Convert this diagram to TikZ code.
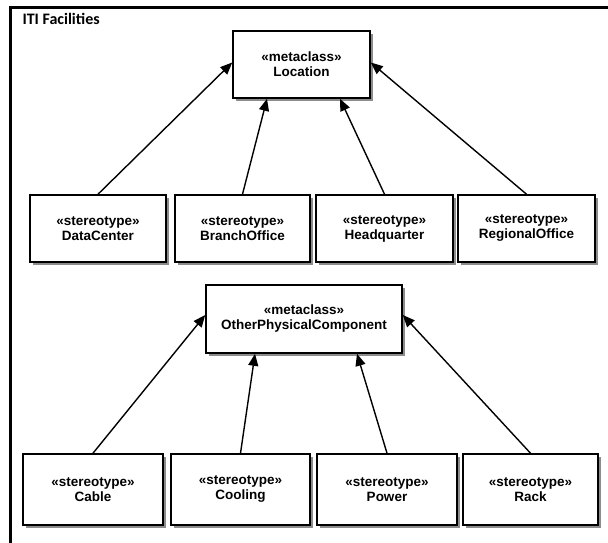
\documentclass[tikz,border=0pt]{standalone}
\usepackage{fontspec}
\setmainfont{Liberation Sans}
\newfontfamily\titlefont{Carlito}
\usetikzlibrary{shadows,arrows.meta}
\begin{document}
\begin{tikzpicture}[x=1pt,y=-1pt,
  umlbox/.style={draw=black,line width=1.6pt,fill=white,align=center,
    font=\bfseries\fontsize{13.5}{15}\selectfont,inner sep=0pt,
    drop shadow={shadow xshift=3pt,shadow yshift=-3pt,fill=black!45,opacity=1}},
  gen/.style={line width=1.4pt,-{Triangle[length=12pt,width=10pt]}}]
\useasboundingbox (0,0) rectangle (608,542);
% frame
\draw[line width=3pt] (10,560) -- (10,7.5) -- (610,7.5);
\node[anchor=base west,font=\titlefont\bfseries\fontsize{16}{18}\selectfont] (title) at (19,24) {ITI Facilities};
% first package
\node[umlbox,minimum width=137pt,minimum height=67pt] (loc) at (301.5,64.5) {«metaclass»\\Location};
\node[umlbox,minimum width=136pt,minimum height=67pt] (dc) at (98,228.5) {«stereotype»\\DataCenter};
\node[umlbox,minimum width=135pt,minimum height=67pt] (bo) at (242.5,228.5) {«stereotype»\\BranchOffice};
\node[umlbox,minimum width=137pt,minimum height=67pt] (hq) at (384.5,228.5) {«stereotype»\\Headquarter};
\node[umlbox,minimum width=137pt,minimum height=67pt] (ro) at (526.5,228.5) {«stereotype»\\RegionalOffice};
\draw[gen] (dc.north) -- ([yshift=2pt]loc.west);
\draw[gen] (bo.north) -- ([xshift=-34.5pt]loc.south);
\draw[gen] (hq.north) -- ([xshift=38.5pt]loc.south);
\draw[gen] (ro.north) -- ([yshift=2pt]loc.east);
% second package
\node[umlbox,minimum width=196pt,minimum height=68pt] (opc) at (304,319) {«metaclass»\\OtherPhysicalComponent};
\node[umlbox,minimum width=140pt,minimum height=71pt] (cab) at (93,489.5) {«stereotype»\\Cable};
\node[umlbox,minimum width=139pt,minimum height=71pt] (coo) at (240.5,489.5) {«stereotype»\\Cooling};
\node[umlbox,minimum width=140pt,minimum height=71pt] (pow) at (387,489.5) {«stereotype»\\Power};
\node[umlbox,minimum width=135pt,minimum height=71pt] (rack) at (530.5,489.5) {«stereotype»\\Rack};
\draw[gen] (cab.north) -- ([yshift=4pt]opc.west);
\draw[gen] (coo.north) -- ([xshift=-49pt]opc.south);
\draw[gen] (pow.north) -- ([xshift=53pt]opc.south);
\draw[gen] (rack.north) -- ([yshift=4pt]opc.east);
\end{tikzpicture}
\end{document}
